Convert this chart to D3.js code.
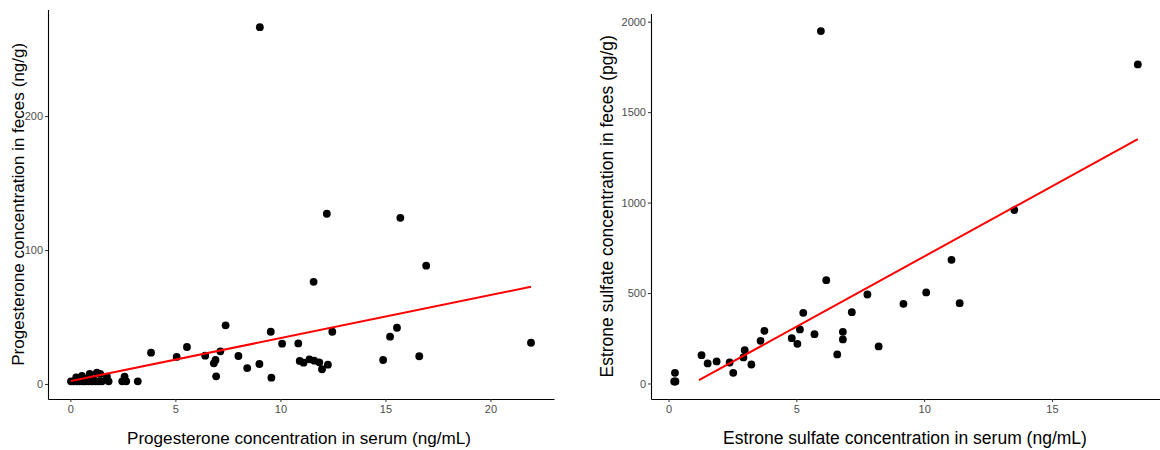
<!DOCTYPE html>
<html>
<head>
<meta charset="utf-8">
<script src="https://cdn.jsdelivr.net/npm/d3@7"></script>
<style>
    body { margin: 0; background: #fff; }
    svg text { font-family: "Liberation Sans", Arial, sans-serif; }
    .tick text { fill: #4d4d4d; font-size: 11px; }
    .tick line { stroke: #333; }
    .domain { stroke: #000; stroke-width: 1.1px; }
</style>
</head>
<body>
<svg id="chart" width="1160" height="450"></svg>
<script>
// progesterone: serum (ng/mL) vs feces (ng/g)
var progSerum = [0.03, 0.16, 0.32, 0.44, 0.6, 0.71, 0.87, 1.03, 1.19, 1.34, 1.5,
    0.28, 0.55, 0.92, 1.26, 1.42, 1.74, 0.5, 0.8, 1.1, 1.82,
    2.47, 2.58, 2.66, 3.21, 3.84, 5.06, 5.55, 6.42, 7.39, 7.14, 6.91, 6.83, 6.94,
    8.0, 8.42, 9.0, 9.54, 9.57, 10.08, 10.85, 10.92, 11.1, 11.38, 11.61, 11.85,
    11.98, 12.26, 12.47, 14.89, 15.22, 15.55, 16.61, 21.93,
    9.02, 12.21, 15.71, 16.94, 11.58];
var progFeces = [2.0, 2.0, 2.0, 2.0, 2.0, 2.0, 2.0, 2.0, 2.0, 2.0, 2.0,
    5.0, 6.0, 7.5, 8.4, 7.5, 5.5, 3.5, 4.0, 3.0, 2.0,
    2.0, 5.5, 2.0, 2.0, 23.4, 20.2, 27.6, 21.1, 43.8, 24.4, 17.9, 15.4, 5.7,
    20.9, 11.9, 14.9, 39.0, 4.7, 30.1, 30.3, 17.2, 15.9, 18.4, 17.4, 16.2,
    11.0, 14.4, 39.0, 17.9, 35.3, 42.0, 20.7, 30.8,
    266.4, 127.1, 124.1, 88.3, 76.3];
var progFitX = [0.03, 21.93];
var progFitY = [2.2, 72.6];

// estrone sulfate: serum (ng/mL) vs feces (pg/g)
var e1sSerum = [0.22, 0.27, 0.25, 1.29, 1.53, 1.88, 2.39, 2.53, 2.93, 2.98, 3.24,
    3.6, 3.75, 4.82, 5.04, 5.14, 5.27, 5.71, 6.17, 6.6, 6.82, 6.82, 7.17,
    7.78, 8.22, 9.19, 10.08, 11.07, 11.39, 13.53, 5.96, 18.36];
var e1sFeces = [11, 11, 58.6, 156.5, 110.6, 121.7, 116, 58.6, 143.8, 184, 105,
    235.6, 291, 250.6, 219, 298.7, 390.5, 272.7, 571, 160.4, 285.4, 243.4, 394.4,
    492, 204.6, 440.3, 503.3, 683.6, 444, 958.5, 1948, 1764];
var e1sFitX = [1.19, 18.36];
var e1sFitY = [18, 1351];

var panels = [
    {
        xs: progSerum, ys: progFeces, fx: progFitX, fy: progFitY,
        left: 48, right: 554, top: 9.5, bottom: 399,
        xTicks: [0, 5, 10, 15, 20], yTicks: [0, 100, 200],
        xTitle: 'Progesterone concentration in serum (ng/mL)',
        yTitle: 'Progesterone concentration in feces (ng/g)',
        xTitleX: 299, yTitleX: 18, titleSize: 17.1
    },
    {
        xs: e1sSerum, ys: e1sFeces, fx: e1sFitX, fy: e1sFitY,
        left: 651, right: 1161, top: 13.6, bottom: 399,
        xTicks: [0, 5, 10, 15], yTicks: [0, 500, 1000, 1500, 2000],
        xTitle: 'Estrone sulfate concentration in serum (ng/mL)',
        yTitle: 'Estrone sulfate concentration in feces (pg/g)',
        xTitleX: 905, yTitleX: 607, titleSize: 17.5
    }
];

var svg = d3.select('#chart');

// ggplot style 5% expansion
function expand(arr){
    var e = d3.extent(arr), pad = (e[1] - e[0]) * 0.05;
    return [e[0] - pad, e[1] + pad];
}

panels.forEach(function(p){
    var x = d3.scaleLinear().domain(expand(p.xs)).range([p.left, p.right]);
    var y = d3.scaleLinear().domain(expand(p.ys)).range([p.bottom, p.top]);

    var g = svg.append('g');

    g.append('g')
        .attr('transform', 'translate(0,' + p.bottom + ')')
        .call(d3.axisBottom(x).tickValues(p.xTicks).tickFormat(d3.format('d'))
            .tickSize(3).tickPadding(3).tickSizeOuter(0));

    g.append('g')
        .attr('transform', 'translate(' + p.left + ',0)')
        .call(d3.axisLeft(y).tickValues(p.yTicks).tickFormat(d3.format('d'))
            .tickSize(3).tickPadding(2).tickSizeOuter(0));

    var pts = p.xs.map(function(d, i){ return {x: d, y: p.ys[i]}; });
    g.selectAll('circle').data(pts).enter()
        .append('circle')
        .attr('r', 3.9)
        .attr('cx', function(d){ return x(d.x); })
        .attr('cy', function(d){ return y(d.y); })
        .attr('fill', '#000');

    g.append('line')
        .attr('x1', x(p.fx[0])).attr('y1', y(p.fy[0]))
        .attr('x2', x(p.fx[1])).attr('y2', y(p.fy[1]))
        .attr('stroke', '#ff0000')
        .attr('stroke-width', 2);

    g.append('text')
        .attr('x', p.xTitleX)
        .attr('y', 444)
        .attr('text-anchor', 'middle')
        .style('font-size', p.titleSize + 'px')
        .text(p.xTitle);

    g.append('text')
        .attr('transform', 'translate(' + p.yTitleX + ',' + ((p.top + p.bottom) / 2) + ') rotate(-90)')
        .attr('text-anchor', 'middle')
        .attr('dy', '0.35em')
        .style('font-size', p.titleSize + 'px')
        .text(p.yTitle);
});
</script>
</body>
</html>
